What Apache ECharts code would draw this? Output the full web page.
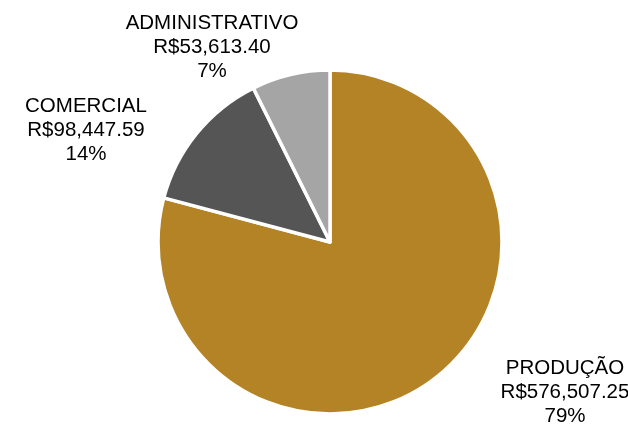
<!DOCTYPE html>
<html><head><meta charset="utf-8">
<script src="https://cdn.jsdelivr.net/npm/echarts@6/dist/echarts.min.js"></script>
<style>html,body{margin:0;padding:0;background:#fff}#c{width:628px;height:424px}</style>
</head><body><div id="c"></div>
<script>
var categories = ['PRODUÇÃO', 'COMERCIAL', 'ADMINISTRATIVO'];
var values = [576507.25, 98447.59, 53613.40];
var percentLabels = ['79%', '14%', '7%'];
var colors = ['#B38325', '#555555', '#A5A5A5'];
var labelPos = [[565, 392], [86, 130], [212, 47]];

function fmt(v) {
  var s = v.toFixed(2).split('.');
  return 'R$' + s[0].replace(/\B(?=(\d{3})+(?!\d))/g, ',') + '.' + s[1];
}

var chart = echarts.init(document.getElementById('c'));
chart.setOption({
  animation: false,
  series: [{
    type: 'pie',
    center: [330, 242],
    radius: [0, 172],
    startAngle: 90,
    clockwise: true,
    data: categories.map(function (c, i) {
      return { name: c, value: values[i], itemStyle: { color: colors[i] } };
    }),
    itemStyle: { borderColor: '#fff', borderWidth: 3.5 },
    label: {
      show: true,
      position: 'outside',
      formatter: function (p) {
        return p.name + '\n' + fmt(p.value) + '\n' + percentLabels[p.dataIndex];
      },
      fontFamily: 'Liberation Sans, Arial, sans-serif',
      fontSize: 20.5,
      lineHeight: 24,
      color: '#000',
      align: 'center'
    },
    labelLine: { show: false },
    labelLayout: function (params) {
      var p = labelPos[params.dataIndex];
      return { x: p[0], y: p[1], align: 'center', verticalAlign: 'middle' };
    }
  }]
});
</script></body></html>
